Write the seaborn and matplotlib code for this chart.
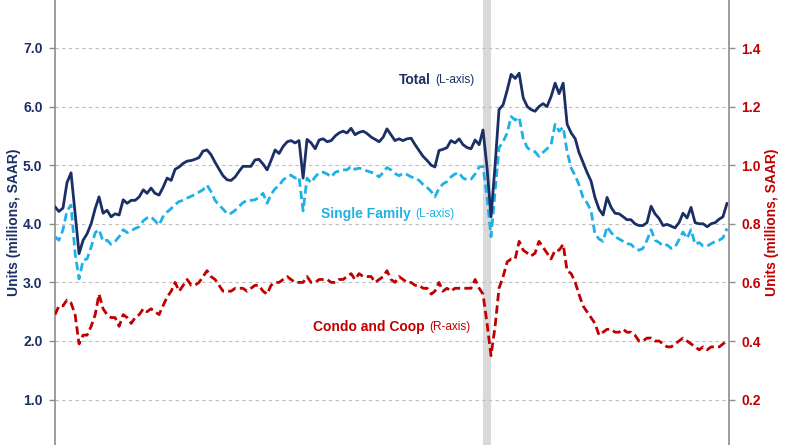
import numpy as np
import pandas as pd
import matplotlib
matplotlib.use("Agg")
import matplotlib.pyplot as plt
import seaborn as sns

# monthly existing home sales, millions SAAR
total = [4.29, 4.21, 4.27, 4.70, 4.87, 4.18, 3.49, 3.72, 3.83, 4.00, 4.26, 4.46, 4.18,
         4.23, 4.12, 4.17, 4.15, 4.41, 4.35, 4.40, 4.40, 4.46, 4.58, 4.52, 4.61,
         4.52, 4.49, 4.62, 4.78, 4.74, 4.93, 4.97, 5.03, 5.07, 5.08, 5.10, 5.13,
         5.24, 5.26, 5.18, 5.05, 4.93, 4.82, 4.75, 4.74, 4.80, 4.90, 4.98, 4.98,
         4.98, 5.09, 5.10, 5.02, 4.92, 5.08, 5.26, 5.20, 5.32, 5.40, 5.42, 5.38,
         5.42, 4.78, 5.44, 5.38, 5.28, 5.43, 5.45, 5.40, 5.42, 5.50, 5.55, 5.58,
         5.55, 5.63, 5.52, 5.56, 5.58, 5.54, 5.48, 5.44, 5.40, 5.48, 5.62, 5.52,
         5.42, 5.45, 5.42, 5.45, 5.46, 5.35, 5.25, 5.15, 5.08, 5.00, 4.97, 5.25,
         5.27, 5.30, 5.42, 5.38, 5.45, 5.35, 5.30, 5.28, 5.43, 5.35, 5.60, 4.95,
         4.12, 5.00, 5.95, 6.03, 6.28, 6.55, 6.48, 6.57, 6.15, 6.00, 5.95, 5.92,
         6.00, 6.05, 6.00, 6.17, 6.40, 6.22, 6.40, 5.70, 5.55, 5.45, 5.22, 5.05,
         4.88, 4.73, 4.45, 4.25, 4.15, 4.45, 4.28, 4.18, 4.17, 4.12, 4.07, 4.07,
         4.00, 3.97, 3.97, 4.02, 4.30, 4.17, 4.09, 3.97, 3.99, 3.96, 3.93, 4.02,
         4.18, 4.10, 4.28, 4.02, 4.00, 4.00, 3.95, 4.00, 4.02, 4.08, 4.12, 4.35]

single_family = [3.78, 3.72, 3.90, 4.22, 4.32, 3.49, 3.06, 3.38, 3.40, 3.60, 3.85, 3.90, 3.70,
                 3.72, 3.65, 3.70, 3.78, 3.90, 3.85, 3.88, 3.92, 3.95, 4.05, 4.10, 4.12,
                 4.05, 3.98, 4.12, 4.20, 4.26, 4.33, 4.38, 4.40, 4.44, 4.47, 4.50, 4.54,
                 4.58, 4.66, 4.55, 4.40, 4.32, 4.25, 4.17, 4.18, 4.23, 4.30, 4.36, 4.40,
                 4.40, 4.41, 4.45, 4.52, 4.35, 4.50, 4.60, 4.65, 4.75, 4.80, 4.83, 4.78,
                 4.80, 4.22, 4.78, 4.70, 4.80, 4.87, 4.88, 4.85, 4.80, 4.88, 4.90, 4.92,
                 4.92, 4.98, 4.93, 4.95, 4.93, 4.90, 4.88, 4.85, 4.80, 4.88, 4.96, 4.92,
                 4.86, 4.82, 4.86, 4.84, 4.80, 4.78, 4.74, 4.67, 4.62, 4.55, 4.46, 4.60,
                 4.68, 4.72, 4.80, 4.85, 4.87, 4.78, 4.75, 4.76, 4.85, 4.97, 4.98, 4.45,
                 3.78, 4.55, 5.30, 5.40, 5.55, 5.83, 5.77, 5.82, 5.45, 5.30, 5.25, 5.23,
                 5.15, 5.22, 5.28, 5.35, 5.70, 5.58, 5.65, 5.23, 4.95, 4.82, 4.67, 4.45,
                 4.36, 4.22, 3.83, 3.74, 3.70, 3.95, 3.85, 3.78, 3.74, 3.70, 3.66, 3.65,
                 3.58, 3.55, 3.58, 3.72, 3.90, 3.72, 3.68, 3.62, 3.64, 3.58, 3.60, 3.73,
                 3.86, 3.75, 3.90, 3.65, 3.68, 3.62, 3.62, 3.66, 3.70, 3.72, 3.76, 3.92]

condo = [0.49, 0.52, 0.52, 0.54, 0.53, 0.49, 0.39, 0.42, 0.42, 0.45, 0.49, 0.56, 0.51,
         0.49, 0.48, 0.48, 0.45, 0.49, 0.48, 0.46, 0.48, 0.49, 0.51, 0.50, 0.51,
         0.50, 0.49, 0.52, 0.55, 0.57, 0.60, 0.57, 0.59, 0.61, 0.59, 0.59, 0.60,
         0.62, 0.64, 0.62, 0.61, 0.59, 0.57, 0.57, 0.57, 0.58, 0.58, 0.58, 0.57,
         0.58, 0.59, 0.59, 0.57, 0.56, 0.59, 0.60, 0.60, 0.61, 0.62, 0.61, 0.60,
         0.60, 0.60, 0.62, 0.60, 0.60, 0.61, 0.61, 0.61, 0.60, 0.60, 0.61, 0.61,
         0.62, 0.63, 0.61, 0.63, 0.62, 0.62, 0.62, 0.60, 0.61, 0.62, 0.64, 0.61,
         0.60, 0.62, 0.61, 0.60, 0.60, 0.59, 0.59, 0.58, 0.58, 0.56, 0.57, 0.60,
         0.57, 0.58, 0.57, 0.58, 0.58, 0.58, 0.58, 0.58, 0.61, 0.58, 0.56, 0.46,
         0.35, 0.45, 0.58, 0.62, 0.67, 0.68, 0.68, 0.74, 0.71, 0.70, 0.69, 0.70,
         0.74, 0.72, 0.70, 0.68, 0.71, 0.71, 0.73, 0.64, 0.63, 0.60, 0.56, 0.52,
         0.50, 0.48, 0.46, 0.42, 0.43, 0.44, 0.44, 0.43, 0.43, 0.44, 0.43, 0.43,
         0.42, 0.40, 0.40, 0.41, 0.41, 0.40, 0.40, 0.39, 0.38, 0.38, 0.39, 0.40,
         0.41, 0.40, 0.39, 0.38, 0.37, 0.38, 0.37, 0.38, 0.38, 0.38, 0.39, 0.40]

dates = pd.date_range("2011-04-01", periods=len(total), freq="MS")
recession = (pd.Timestamp("2020-03-01"), pd.Timestamp("2020-05-01"))

left_ticks = [1.0, 2.0, 3.0, 4.0, 5.0, 6.0, 7.0]
right_ticks = [0.2, 0.4, 0.6, 0.8, 1.0, 1.2, 1.4]

navy = "#1b2f66"
blue = "#1fb1e6"
red = "#c00000"
gray = "#8c8c8c"

sns.set_theme(style="white")
plt.rcParams["font.family"] = ["Liberation Sans", "DejaVu Sans"]

W, H = 800, 445
fig = plt.figure(figsize=(8, 4.45), dpi=100)
ax = fig.add_axes([55 / W, 0, 674 / W, 1])
ax2 = ax.twinx()

ax.axvspan(*recession, color="#d9d9d9", lw=0, zorder=0)

sns.lineplot(x=dates, y=total, ax=ax, color=navy, lw=2.0, zorder=3)
sns.lineplot(x=dates, y=single_family, ax=ax, color=blue, lw=2.0,
             linestyle=(0, (3, 1.5)), zorder=2)
sns.lineplot(x=dates, y=condo, ax=ax2, color=red, lw=2.0,
             linestyle=(0, (3, 1.5)), zorder=2)

ax.set_ylim(0.225, 7.819)
ax2.set_ylim(0.045, 1.564)
ax.set_xlim(dates[0], dates[-1] + pd.Timedelta(days=15))

ax.set_yticks(left_ticks)
ax.set_yticklabels([f"{t:.1f}" for t in left_ticks])
ax2.set_yticks(right_ticks)
ax2.set_yticklabels([f"{t:.1f}" for t in right_ticks])

ax.yaxis.grid(True, linestyle=(0, (3, 3)), color="#bdbdbd", lw=0.8)
ax.xaxis.grid(False)
ax.set_xticks([])
ax.set_xlabel("")
ax.set_ylabel("")
ax2.set_ylabel("")

for a in (ax, ax2):
    for s in ("top", "bottom"):
        a.spines[s].set_visible(False)
ax.spines["left"].set_color(gray)
ax.spines["left"].set_linewidth(1.2)
ax.spines["right"].set_visible(False)
ax2.spines["left"].set_visible(False)
ax2.spines["right"].set_color(gray)
ax2.spines["right"].set_linewidth(1.2)

ax.tick_params(axis="y", which="both", left=True, direction="out", length=4,
               width=1, color=gray, pad=5, labelsize=10, labelcolor=navy)
ax2.tick_params(axis="y", which="both", right=True, direction="out", length=4,
                width=1, color=gray, pad=5, labelsize=10, labelcolor=red)
for lab in ax.get_yticklabels():
    lab.set_fontweight("bold")
for lab in ax2.get_yticklabels():
    lab.set_fontweight("bold")

fig.text(14 / W, 0.5, "Units (millions, SAAR)", rotation=90, ha="center",
         va="center", color=navy, fontsize=10, fontweight="bold")
fig.text(772 / W, 0.5, "Units (millions, SAAR)", rotation=90, ha="center",
         va="center", color=red, fontsize=10, fontweight="bold")

# series labels: bold name + small axis note
labels = [("Total", "(L-axis)", navy, 431, 80),
          ("Single Family", "(L-axis)", blue, 411, 214),
          ("Condo and Coop", "(R-axis)", red, 425, 327)]
for name, note, col, xr, yc in labels:
    fig.text(xr / W, 1 - yc / H, name, ha="right", va="center", color=col,
             fontsize=10, fontweight="bold")
    fig.text((xr + 4) / W, 1 - yc / H, note, ha="left", va="center", color=col,
             fontsize=8.5)

fig.savefig("out.png", dpi=100)
